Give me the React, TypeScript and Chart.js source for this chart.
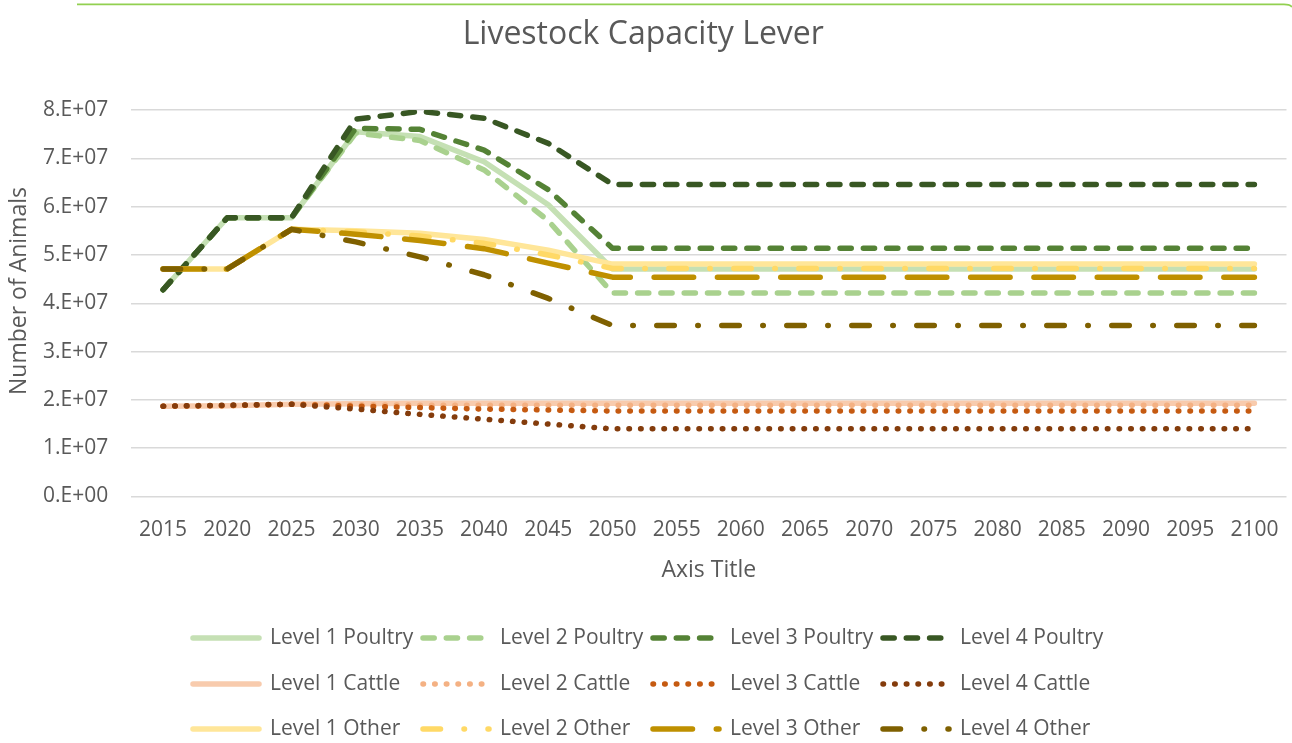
import React, { useEffect, useRef } from 'react';
import { Chart, registerables } from 'chart.js';

Chart.register(...registerables);

const years = ['2015', '2020', '2025', '2030', '2035', '2040', '2045', '2050', '2055', '2060', '2065', '2070', '2075', '2080', '2085', '2090', '2095', '2100'];

const level1Poultry = [4.28e7, 5.77e7, 5.77e7, 7.55e7, 7.45e7, 6.93e7, 6.04e7, 4.71e7, 4.71e7, 4.71e7, 4.71e7, 4.71e7, 4.71e7, 4.71e7, 4.71e7, 4.71e7, 4.71e7, 4.71e7];
const level2Poultry = [4.28e7, 5.77e7, 5.77e7, 7.52e7, 7.37e7, 6.76e7, 5.71e7, 4.21e7, 4.21e7, 4.21e7, 4.21e7, 4.21e7, 4.21e7, 4.21e7, 4.21e7, 4.21e7, 4.21e7, 4.21e7];
const level3Poultry = [4.28e7, 5.77e7, 5.77e7, 7.62e7, 7.60e7, 7.17e7, 6.35e7, 5.14e7, 5.14e7, 5.14e7, 5.14e7, 5.14e7, 5.14e7, 5.14e7, 5.14e7, 5.14e7, 5.14e7, 5.14e7];
const level4Poultry = [4.28e7, 5.77e7, 5.77e7, 7.81e7, 7.97e7, 7.83e7, 7.31e7, 6.46e7, 6.46e7, 6.46e7, 6.46e7, 6.46e7, 6.46e7, 6.46e7, 6.46e7, 6.46e7, 6.46e7, 6.46e7];

const level1Cattle = [1.87e7, 1.88e7, 1.91e7, 1.92e7, 1.93e7, 1.93e7, 1.93e7, 1.93e7, 1.93e7, 1.93e7, 1.93e7, 1.93e7, 1.93e7, 1.93e7, 1.93e7, 1.93e7, 1.93e7, 1.93e7];
const level2Cattle = [1.87e7, 1.88e7, 1.91e7, 1.90e7, 1.89e7, 1.89e7, 1.89e7, 1.89e7, 1.89e7, 1.89e7, 1.89e7, 1.89e7, 1.89e7, 1.89e7, 1.89e7, 1.89e7, 1.89e7, 1.89e7];
const level3Cattle = [1.87e7, 1.88e7, 1.91e7, 1.87e7, 1.84e7, 1.81e7, 1.79e7, 1.77e7, 1.77e7, 1.77e7, 1.77e7, 1.77e7, 1.77e7, 1.77e7, 1.77e7, 1.77e7, 1.77e7, 1.77e7];
const level4Cattle = [1.87e7, 1.89e7, 1.91e7, 1.81e7, 1.70e7, 1.60e7, 1.50e7, 1.40e7, 1.40e7, 1.40e7, 1.40e7, 1.40e7, 1.40e7, 1.40e7, 1.40e7, 1.40e7, 1.40e7, 1.40e7];

const level1Other = [4.71e7, 4.71e7, 5.53e7, 5.50e7, 5.45e7, 5.32e7, 5.10e7, 4.81e7, 4.81e7, 4.81e7, 4.81e7, 4.81e7, 4.81e7, 4.81e7, 4.81e7, 4.81e7, 4.81e7, 4.81e7];
const level2Other = [4.71e7, 4.71e7, 5.53e7, 5.48e7, 5.39e7, 5.24e7, 5.00e7, 4.72e7, 4.72e7, 4.72e7, 4.72e7, 4.72e7, 4.72e7, 4.72e7, 4.72e7, 4.72e7, 4.72e7, 4.72e7];
const level3Other = [4.71e7, 4.71e7, 5.53e7, 5.43e7, 5.30e7, 5.13e7, 4.83e7, 4.54e7, 4.54e7, 4.54e7, 4.54e7, 4.54e7, 4.54e7, 4.54e7, 4.54e7, 4.54e7, 4.54e7, 4.54e7];
const level4Other = [4.71e7, 4.71e7, 5.53e7, 5.27e7, 4.96e7, 4.59e7, 4.10e7, 3.54e7, 3.54e7, 3.54e7, 3.54e7, 3.54e7, 3.54e7, 3.54e7, 3.54e7, 3.54e7, 3.54e7, 3.54e7];

const yTickLabels = ['0.E+00', '1.E+07', '2.E+07', '3.E+07', '4.E+07', '5.E+07', '6.E+07', '7.E+07', '8.E+07'];

const seriesNames = ['Level 1 Poultry', 'Level 2 Poultry', 'Level 3 Poultry', 'Level 4 Poultry', 'Level 1 Cattle', 'Level 2 Cattle', 'Level 3 Cattle', 'Level 4 Cattle', 'Level 1 Other', 'Level 2 Other', 'Level 3 Other', 'Level 4 Other'];
const seriesValues = [level1Poultry, level2Poultry, level3Poultry, level4Poultry, level1Cattle, level2Cattle, level3Cattle, level4Cattle, level1Other, level2Other, level3Other, level4Other];
const seriesColors = ['#c5e0b4', '#a9d18e', '#548235', '#385723', '#f8cbad', '#f4b183', '#c55a11', '#843c0c', '#ffe699', '#ffd966', '#bf9000', '#7f6000'];

const SOLID: number[] = [];
const DASH = [11.2, 12.1];
const DOT = [0.5, 11.17];
const LONG_DASH_DOT = [17.5, 23.5, 0.5, 23.5];
const LONG_DASH = [39.5, 23.8];
const seriesDashes = [SOLID, DASH, DASH, DASH, SOLID, DOT, DOT, DOT, SOLID, LONG_DASH_DOT, LONG_DASH, LONG_DASH_DOT];

const FONT = "'Open Sans', sans-serif";
const TEXT = '#595959';
const LW = 5.5;

const decorPlugin = {
  id: 'decor',
  beforeDraw(chart: any) {
    const ctx = chart.ctx;
    ctx.save();
    ctx.strokeStyle = '#92d050';
    ctx.lineWidth = 1.8;
    ctx.beginPath();
    ctx.moveTo(77, 4.3);
    ctx.lineTo(1284, 4.3);
    ctx.quadraticCurveTo(1290, 4.3, 1292, 7);
    ctx.stroke();
    ctx.restore();
  },
  afterDraw(chart: any) {
    const ctx = chart.ctx;
    ctx.save();
    // y-axis title
    ctx.fillStyle = TEXT;
    ctx.font = `23px ${FONT}`;
    ctx.textAlign = 'center';
    ctx.textBaseline = 'middle';
    ctx.translate(19, 291);
    ctx.rotate(-Math.PI / 2);
    ctx.fillText('Number of Animals', 0, 0);
    ctx.restore();

    // legend
    const colX = [193, 423, 653, 883];
    const rowY = [638, 684, 729];
    chart.data.datasets.forEach((ds: any, i: number) => {
      const x = colX[i % 4];
      const y = rowY[Math.floor(i / 4)];
      ctx.save();
      ctx.strokeStyle = ds.borderColor;
      ctx.lineWidth = ds.borderWidth;
      ctx.lineCap = 'round';
      ctx.setLineDash(ds.borderDash || []);
      ctx.beginPath();
      ctx.moveTo(x, y);
      ctx.lineTo(x + 66, y);
      ctx.stroke();
      ctx.restore();
      ctx.save();
      ctx.fillStyle = TEXT;
      ctx.font = `21px ${FONT}`;
      ctx.textAlign = 'left';
      ctx.textBaseline = 'middle';
      ctx.fillText(ds.label, x + 77, y);
      ctx.restore();
    });
  },
};

export default function App() {
  const ref = useRef<HTMLCanvasElement | null>(null);

  useEffect(() => {
    if (!ref.current) return;
    const datasets = seriesNames.map((name, i) => ({
      label: name,
      data: seriesValues[i],
      borderColor: seriesColors[i],
      backgroundColor: seriesColors[i],
      borderWidth: LW,
      borderDash: seriesDashes[i],
      borderCapStyle: 'round' as const,
      borderJoinStyle: 'round' as const,
      pointRadius: 0,
      pointHoverRadius: 0,
      tension: 0,
      fill: false,
      order: -i,
    }));

    const chart = new Chart(ref.current, {
      type: 'line',
      data: { labels: years, datasets },
      plugins: [decorPlugin],
      options: {
        responsive: false,
        animation: false,
        events: [],
        layout: { padding: { left: 0, right: 5.5, top: 0, bottom: 146.5 } },
        plugins: {
          legend: { display: false },
          tooltip: { enabled: false },
          title: {
            display: true,
            text: 'Livestock Capacity Lever',
            color: TEXT,
            font: { family: FONT, size: 32, weight: 'normal' },
            padding: { top: 16, bottom: 55.6 },
          },
        },
        scales: {
          x: {
            type: 'category',
            offset: true,
            grid: { display: false },
            border: { display: false },
            ticks: {
              color: TEXT,
              font: { family: FONT, size: 21 },
              padding: 12.5,
              autoSkip: false,
              maxRotation: 0,
              minRotation: 0,
            },
            title: {
              display: true,
              text: 'Axis Title',
              color: TEXT,
              font: { family: FONT, size: 23 },
              padding: { top: 0, bottom: 12.7 },
            },
            afterFit(scale: any) {
              scale.height = 100;
            },
          },
          y: {
            type: 'linear',
            min: 0,
            max: 8e7,
            grid: { color: '#d9d9d9', lineWidth: 1.4, drawTicks: false },
            border: { display: false },
            ticks: {
              stepSize: 1e7,
              color: TEXT,
              font: { family: FONT, size: 21 },
              padding: 22.7,
              callback: (_v: any, idx: number) => yTickLabels[idx],
            },
            afterFit(scale: any) {
              scale.width = 131;
            },
          },
        },
      },
    });
    return () => chart.destroy();
  }, []);

  return (
    <div style={{ position: 'absolute', left: 0, top: 0, width: 1292, height: 743, background: '#ffffff' }}>
      <canvas ref={ref} width={1292} height={743} style={{ display: 'block' }} />
    </div>
  );
}
